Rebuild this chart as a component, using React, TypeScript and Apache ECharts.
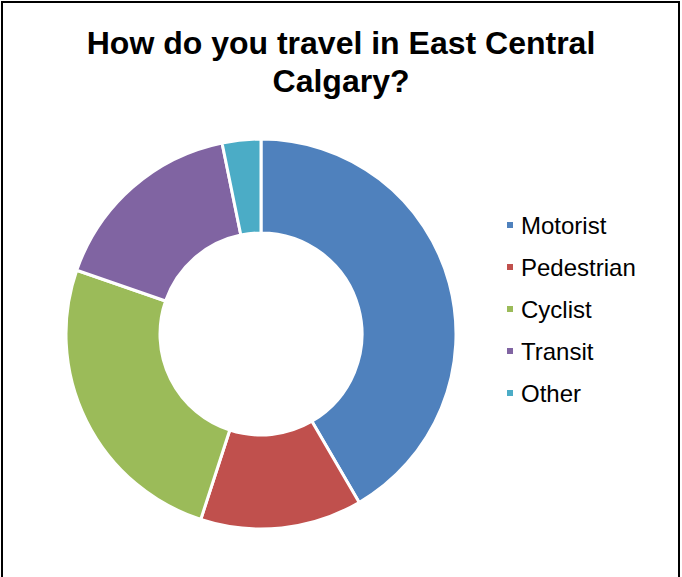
import React, { useEffect, useRef } from "react";
import * as echarts from "echarts";

const titleText = "How do you travel in East Central\nCalgary?";
const categories = ["Motorist", "Pedestrian", "Cyclist", "Transit", "Other"];
const values = [41.6, 13.4, 25.3, 16.5, 3.2];
const colors = ["#4F81BD", "#C0504D", "#9BBB59", "#8064A2", "#4BACC6"];

export default function App() {
  const ref = useRef<HTMLDivElement>(null);
  useEffect(() => {
    if (!ref.current) return;
    const chart = echarts.init(ref.current, null, { renderer: "svg" });
    chart.setOption({
      animation: false,
      backgroundColor: "#ffffff",
      title: {
        text: titleText,
        left: "center",
        top: 19,
        textStyle: {
          fontFamily: "Liberation Sans, Arial, sans-serif",
          fontSize: 32,
          fontWeight: "bold",
          color: "#000000",
          lineHeight: 38,
        },
      },
      legend: {
        orient: "vertical",
        left: 500,
        top: 204,
        icon: "rect",
        itemWidth: 8,
        itemHeight: 8,
        itemGap: 10,
        data: categories,
        textStyle: {
          fontFamily: "Liberation Sans, Arial, sans-serif",
          fontSize: 24,
          color: "#000000",
          lineHeight: 32,
          padding: [0, 0, 0, 2],
        },
      },
      graphic: [
        {
          type: "rect",
          shape: { x: 2, y: 2, width: 677, height: 620 },
          style: { fill: "none", stroke: "#000000", lineWidth: 2 },
          silent: true,
        },
      ],
      series: [
        {
          type: "pie",
          center: [261, 334],
          radius: [101, 195],
          startAngle: 90,
          clockwise: true,
          label: { show: false },
          labelLine: { show: false },
          itemStyle: { borderColor: "#ffffff", borderWidth: 3 },
          emphasis: { disabled: true },
          data: categories.map((name, i) => ({
            name,
            value: values[i],
            itemStyle: { color: colors[i] },
          })),
        },
      ],
    });
    return () => chart.dispose();
  }, []);
  return (
    <div
      ref={ref}
      style={{ position: "fixed", left: 0, top: 0, width: 682, height: 577 }}
    />
  );
}
